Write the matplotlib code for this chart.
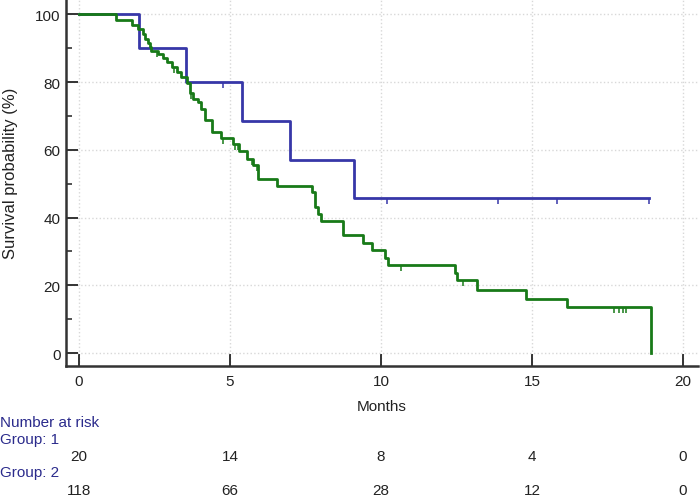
import numpy as np
import matplotlib.pyplot as plt
from matplotlib.transforms import blended_transform_factory

plt.rcParams['font.family'] = ['Liberation Sans', 'DejaVu Sans']

# group 1 (blue) Kaplan-Meier steps
g1_times = [0, 2.0, 3.54, 5.39, 6.99, 9.1, 18.87]
g1_surv = [100, 90, 80, 68.6, 57.1, 45.7, 45.7]
g1_censor = [4.78, 10.19, 13.86, 15.82, 18.87]

# group 2 (green) Kaplan-Meier steps
g2_times = [0, 1.22, 1.74, 1.96, 2.13, 2.2, 2.27, 2.35, 2.4, 2.63, 2.77, 2.9,
            3.07, 3.23, 3.38, 3.57, 3.68, 3.78, 3.93, 4.05, 4.17, 4.39, 4.7,
            5.09, 5.3, 5.55, 5.77, 5.94, 6.55, 7.7, 7.81, 7.92, 8.0, 8.75,
            9.39, 9.69, 10.13, 10.24, 12.45, 12.53, 13.19, 14.8, 16.17, 18.94]
g2_surv = [100, 98.3, 96.8, 95.6, 94.1, 92.6, 91.4, 90.2, 89.2, 88.2, 87.2, 85.8,
           84.5, 83.1, 81.5, 79.8, 76.9, 74.9, 74.0, 72.0, 68.8, 65.3, 63.6,
           61.7, 59.7, 57.2, 55.5, 51.3, 49.2, 47.4, 43.0, 41.0, 39.0, 34.8,
           32.4, 30.5, 28.2, 26.0, 23.6, 21.5, 18.7, 16.1, 13.5, 0]
g2_censor = [2.57, 3.16, 3.7, 4.78, 5.17, 5.25, 5.72, 5.88, 10.65, 12.73,
             17.73, 17.89, 18.0, 18.11]

risk_times = [0, 5, 10, 15, 20]
risk_g1 = [20, 14, 8, 4, 0]
risk_g2 = [118, 66, 28, 12, 0]

blue = '#3737a8'
green = '#187a18'
navy = '#2b2b8c'


def step_value(times, surv, t):
    idx = np.searchsorted(times, t, side='right') - 1
    return np.array(surv)[idx]


fig = plt.figure(figsize=(7, 5.02), dpi=100)
ax = fig.add_axes([0.0943, 0.2689, 0.9029, 0.7291])

ax.grid(True, color='#d8d8d8', linestyle=':', linewidth=1.0)
ax.set_axisbelow(True)

ax.step(g1_times, g1_surv, where='post', color=blue, lw=2.0, zorder=3)
ax.step(g2_times, g2_surv, where='post', color=green, lw=2.0, zorder=4)

y1 = step_value(g1_times, g1_surv, g1_censor)
ax.vlines(g1_censor, y1 - 1.8, y1, color=blue, lw=1.1, zorder=3)
y2 = step_value(g2_times, g2_surv, g2_censor)
ax.vlines(g2_censor, y2 - 1.8, y2, color=green, lw=1.1, zorder=4)

ax.set_xlim(-0.43, 20.5)
ax.set_ylim(-3.8, 104.2)
ax.set_xticks(risk_times)
ax.set_yticks([0, 20, 40, 60, 80, 100])
ax.set_yticks([10, 30, 50, 70, 90], minor=True)

for s in ['top', 'right']:
    ax.spines[s].set_visible(False)
for s in ['left', 'bottom']:
    ax.spines[s].set_color('#333333')
    ax.spines[s].set_linewidth(1.8)

ax.tick_params(axis='both', which='major', direction='in', length=8.6,
               width=1.4, color='#333333', labelsize=11, labelcolor='#222222')
ax.tick_params(axis='y', which='minor', direction='in', length=4.3,
               width=1.2, color='#333333')
ax.tick_params(axis='x', pad=6)
ax.tick_params(axis='y', pad=4)

fig.text(0.015, 0.655, 'Survival probability (%)', rotation=90,
         ha='center', va='center', fontsize=12, color='#222222')
ax.set_xlabel('Months', fontsize=11, color='#222222', labelpad=8)

tr = blended_transform_factory(ax.transData, fig.transFigure)
fig.text(0.0, 1 - 423 / 502, 'Number at risk', ha='left', va='center',
         fontsize=11, color=navy)
fig.text(0.0, 1 - 440 / 502, 'Group: 1', ha='left', va='center',
         fontsize=11, color=navy)
fig.text(0.0, 1 - 473 / 502, 'Group: 2', ha='left', va='center',
         fontsize=11, color=navy)
for t, n1, n2 in zip(risk_times, risk_g1, risk_g2):
    ax.text(t, 1 - 457 / 502, str(n1), transform=tr, ha='center',
            va='center', fontsize=11, color='#222222')
    ax.text(t, 1 - 491 / 502, str(n2), transform=tr, ha='center',
            va='center', fontsize=11, color='#222222')

fig.savefig('out.png', dpi=100)
